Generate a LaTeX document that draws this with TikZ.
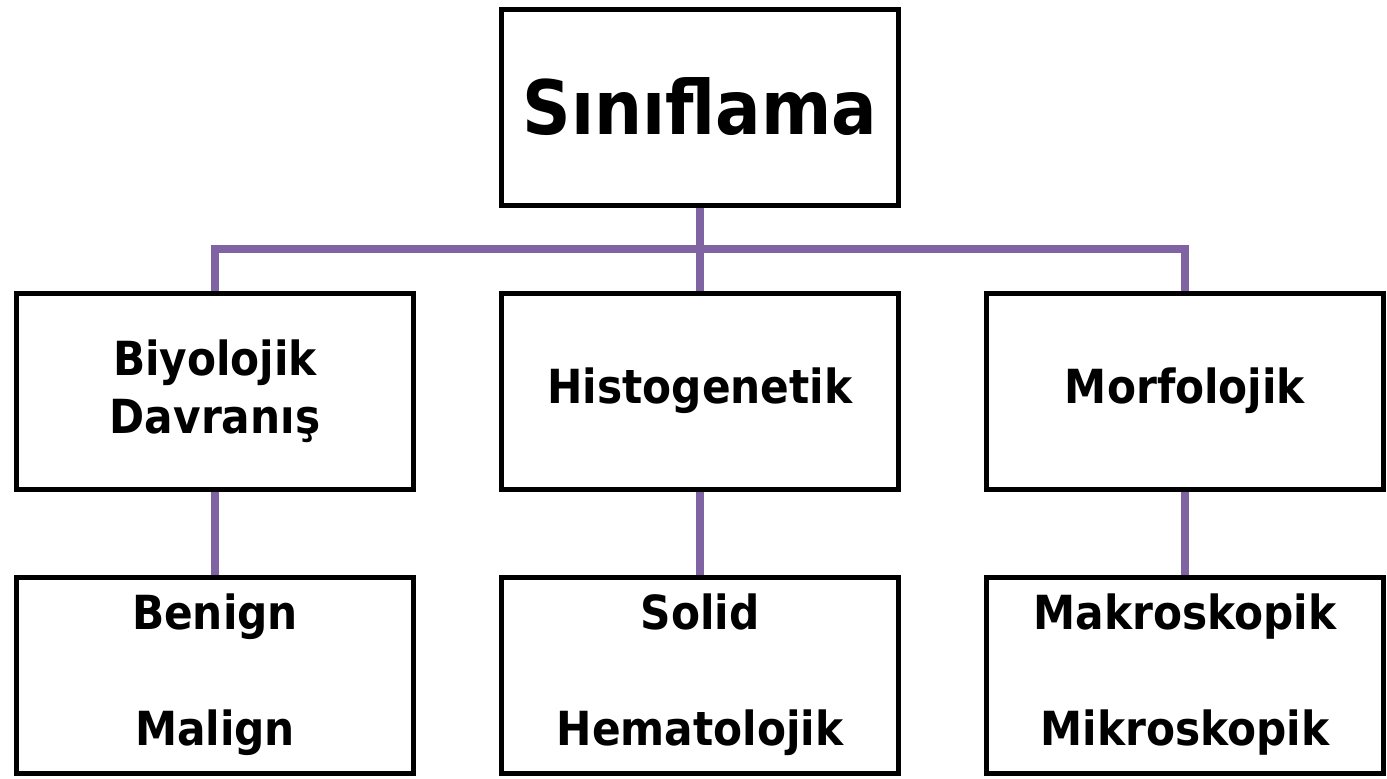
\documentclass[tikz,border=0pt]{standalone}
\usepackage{fontspec}
\setmainfont{DejaVu Sans Condensed}
\usepackage{xcolor}
\usepackage{tikz}
\usetikzlibrary{positioning}

\definecolor{busline}{RGB}{128,99,162}

\tikzset{
  box/.style={draw, line width=5pt, minimum width=397pt, minimum height=196pt,
    align=center, font=\bfseries\fontsize{47}{58}\selectfont},
  conn/.style={draw=busline, line width=8pt}
}

\begin{document}
\begin{tikzpicture}[node distance=83pt]
        \useasboundingbox (0,0) rectangle (1387pt,-779pt);
        \node[box, font=\bfseries\fontsize{75}{90}\selectfont] (sinif) at (700pt,-107pt) {Sınıflama};
        \node[box, below=of sinif] (histo) {Histogenetik};
        \node[box, left=of histo] (biyo) {Biyolojik\\Davranış};
        \node[box, right=of histo] (morfo) {Morfolojik};
        \node[box, below=of biyo] (benign) {Benign\\[58pt]Malign};
        \node[box, below=of histo] (solid) {Solid\\[58pt]Hematolojik};
        \node[box, below=of morfo] (makro) {Makroskopik\\[58pt]Mikroskopik};
        \draw[conn] (sinif) -- (histo);
        \draw[conn] (biyo.north) -- ++(0,41.5pt) -| (morfo.north);
        \draw[conn] (biyo) -- (benign);
        \draw[conn] (histo) -- (solid);
        \draw[conn] (morfo) -- (makro);
    \end{tikzpicture}
\end{document}
